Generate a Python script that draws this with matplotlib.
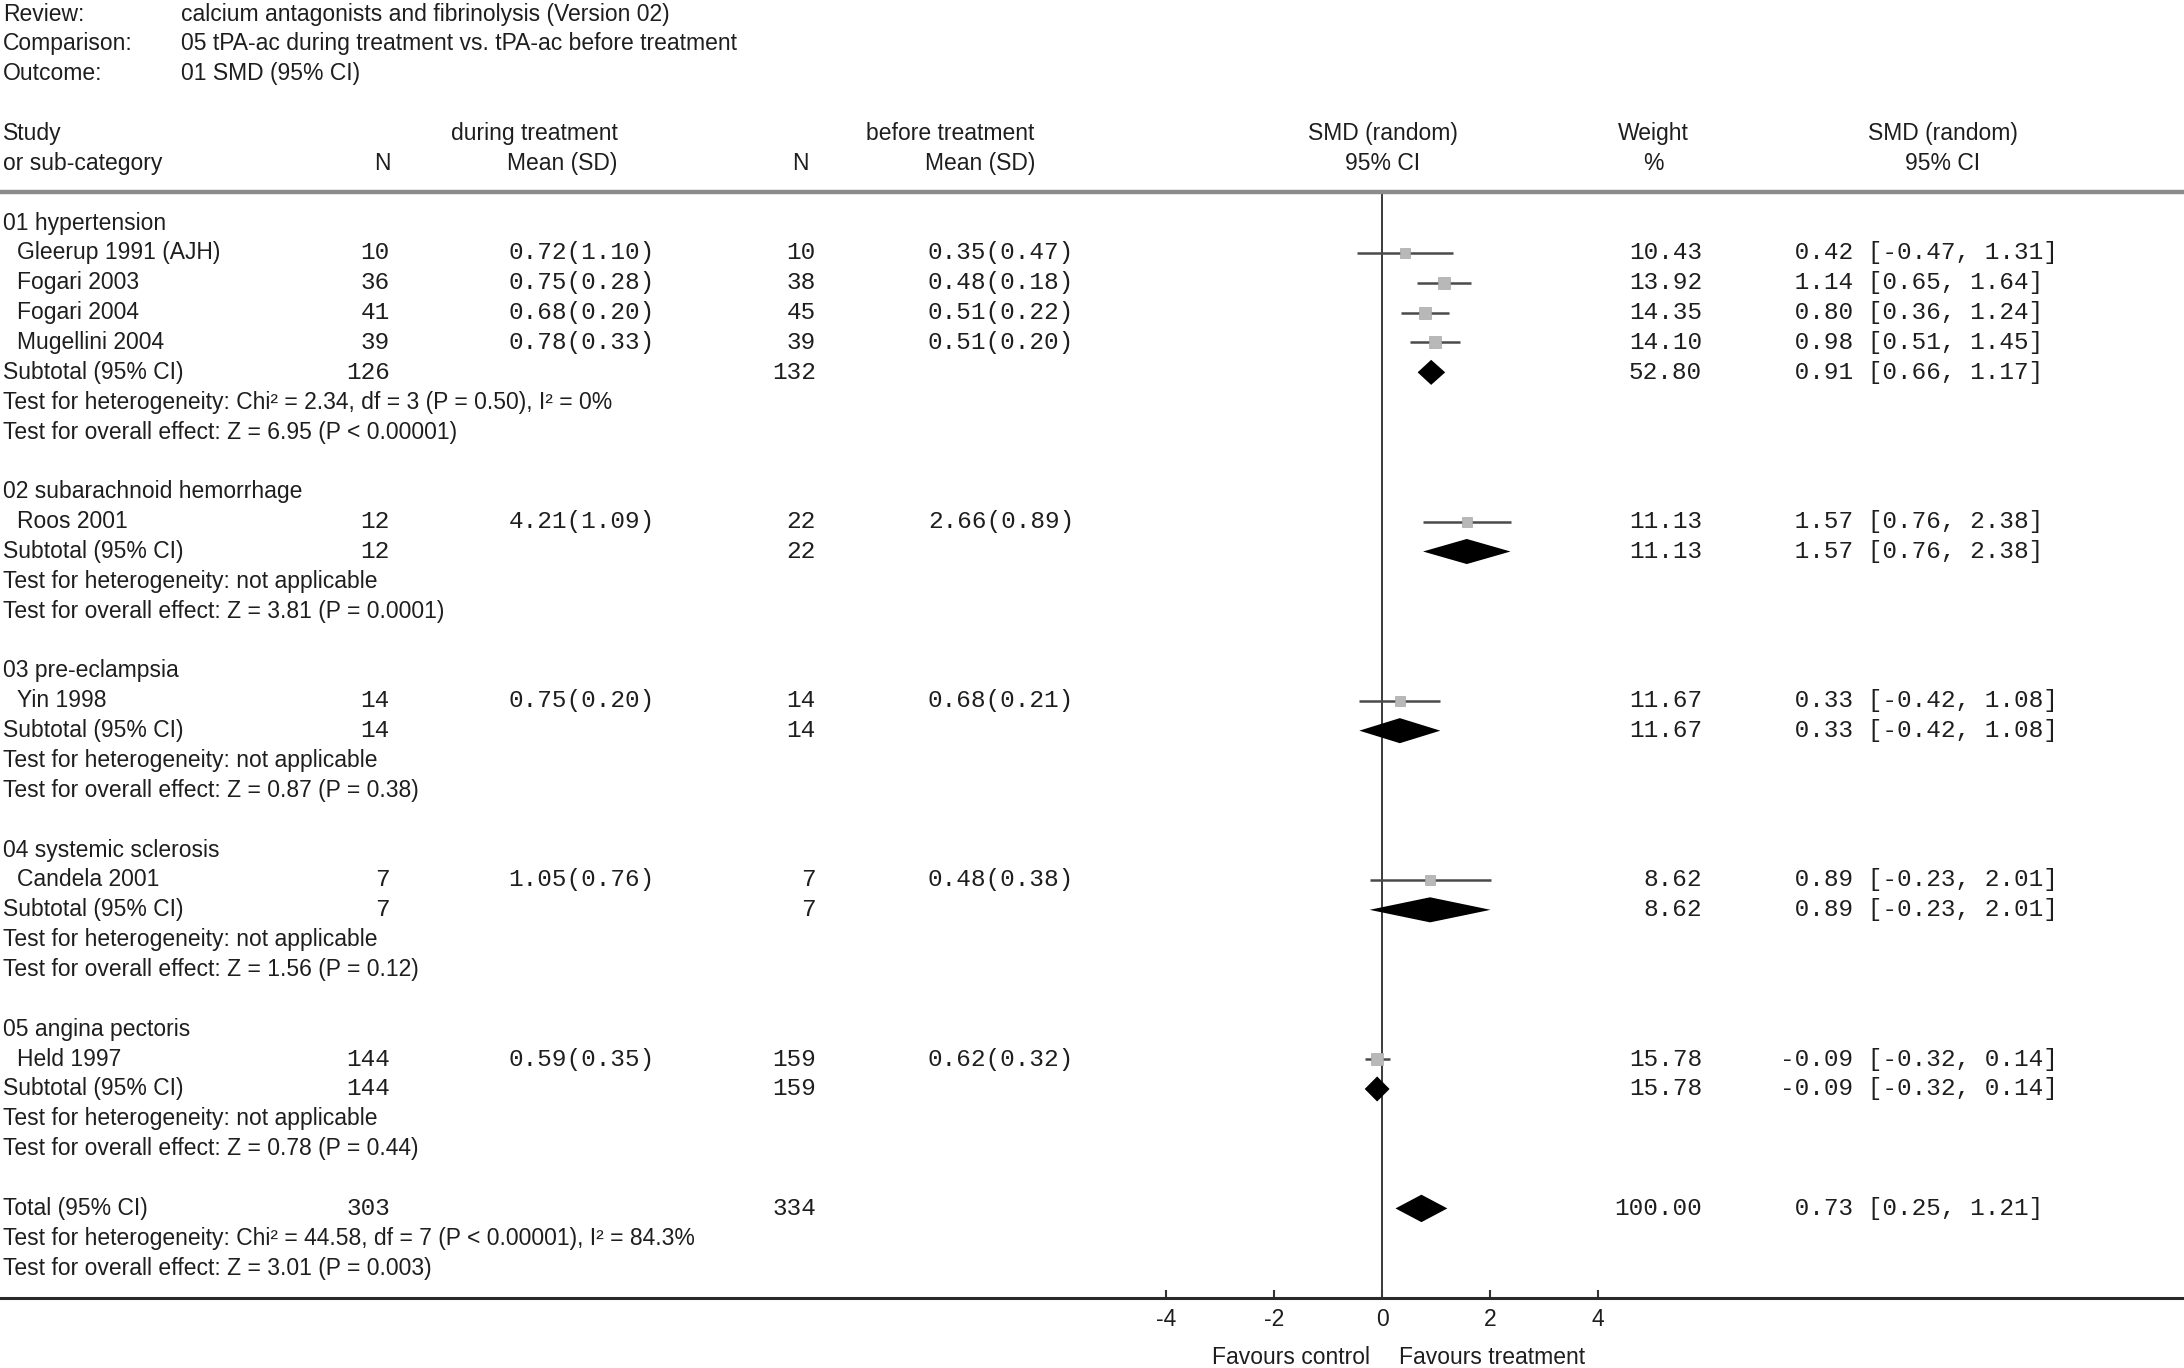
import matplotlib
matplotlib.use("Agg")
import matplotlib.pyplot as plt
import matplotlib.transforms as mtransforms
import numpy as np

plt.rcParams['axes.unicode_minus'] = False

# ---------------- data ----------------
review = "calcium antagonists and fibrinolysis (Version 02)"
comparison = "05 tPA-ac during treatment vs. tPA-ac before treatment"
outcome = "01 SMD (95% CI)"

group_names = ["01 hypertension", "02 subarachnoid hemorrhage", "03 pre-eclampsia",
               "04 systemic sclerosis", "05 angina pectoris"]

study_names = ["Gleerup 1991 (AJH)", "Fogari 2003", "Fogari 2004", "Mugellini 2004",
               "Roos 2001", "Yin 1998", "Candela 2001", "Held 1997"]
study_group = [0, 0, 0, 0, 1, 2, 3, 4]
n_during = [10, 36, 41, 39, 12, 14, 7, 144]
mean_during = [0.72, 0.75, 0.68, 0.78, 4.21, 0.75, 1.05, 0.59]
sd_during = [1.10, 0.28, 0.20, 0.33, 1.09, 0.20, 0.76, 0.35]
n_before = [10, 38, 45, 39, 22, 14, 7, 159]
mean_before = [0.35, 0.48, 0.51, 0.51, 2.66, 0.68, 0.48, 0.62]
sd_before = [0.47, 0.18, 0.22, 0.20, 0.89, 0.21, 0.38, 0.32]
weight = [10.43, 13.92, 14.35, 14.10, 11.13, 11.67, 8.62, 15.78]
smd = [0.42, 1.14, 0.80, 0.98, 1.57, 0.33, 0.89, -0.09]
ci_low = [-0.47, 0.65, 0.36, 0.51, 0.76, -0.42, -0.23, -0.32]
ci_high = [1.31, 1.64, 1.24, 1.45, 2.38, 1.08, 2.01, 0.14]

sub_n_during = [126, 12, 14, 7, 144]
sub_n_before = [132, 22, 14, 7, 159]
sub_weight = [52.80, 11.13, 11.67, 8.62, 15.78]
sub_smd = [0.91, 1.57, 0.33, 0.89, -0.09]
sub_low = [0.66, 0.76, -0.42, -0.23, -0.32]
sub_high = [1.17, 2.38, 1.08, 2.01, 0.14]
sub_het = ["Chi\u00b2 = 2.34, df = 3 (P = 0.50), I\u00b2 = 0%", "not applicable",
           "not applicable", "not applicable", "not applicable"]
sub_z = ["Z = 6.95 (P < 0.00001)", "Z = 3.81 (P = 0.0001)", "Z = 0.87 (P = 0.38)",
         "Z = 1.56 (P = 0.12)", "Z = 0.78 (P = 0.44)"]

total_n_during = 303
total_n_before = 334
total_weight = 100.00
total_smd = 0.73
total_low = 0.25
total_high = 1.21
total_het = "Chi\u00b2 = 44.58, df = 7 (P < 0.00001), I\u00b2 = 84.3%"
total_z = "Z = 3.01 (P = 0.003)"

x_ticks = [-4, -2, 0, 2, 4]

# ---------------- layout ----------------
FW, FH = 2184, 1368
fig = plt.figure(figsize=(FW / 100, FH / 100), dpi=100)
top_px, bot_px = 192, 1298
ax = fig.add_axes([0, 1 - bot_px / FH, 1, (bot_px - top_px) / FH])
zero_px, unit_px = 1382, 54.0
ax.set_xlim(-zero_px / unit_px, (FW - zero_px) / unit_px)
ax.set_ylim(36.0, -1.04)

tr = mtransforms.blended_transform_factory(ax.transAxes, ax.transData)

def fx(px):
    return px / FW

SANS = 'Liberation Sans'
MONO = 'Liberation Mono'
TC = '#1e1e1e'
FS = 16.5
MS = 17.6

def stext(x, y, s, ha='left', **kw):
    ax.text(fx(x), y, s, transform=tr, ha=ha, va='center', fontsize=FS,
            family=SANS, color=TC, **kw)

def mtext(x, y, s, ha='right'):
    ax.text(fx(x), y, s, transform=tr, ha=ha, va='center', fontsize=MS,
            family=MONO, color=TC)

# header info
stext(3, -7, "Review:")
stext(181, -7, review)
stext(3, -6, "Comparison:")
stext(181, -6, comparison)
stext(3, -5, "Outcome:")
stext(181, -5, outcome)

# column headers
stext(3, -3, "Study")
stext(3, -2, "or sub-category")
stext(534, -3, "during treatment", ha='center')
stext(382, -2, "N", ha='center')
stext(617, -2, "Mean (SD)", ha='right')
stext(950, -3, "before treatment", ha='center')
stext(800, -2, "N", ha='center')
stext(1035, -2, "Mean (SD)", ha='right')
stext(1383, -3, "SMD (random)", ha='center')
stext(1383, -2, "95% CI", ha='center')
stext(1653, -3, "Weight", ha='center')
stext(1653, -2, "%", ha='center')
stext(1943, -3, "SMD (random)", ha='center')
stext(1943, -2, "95% CI", ha='center')

X_N1, X_M1, X_N2, X_M2, X_W, X_CI = 390, 655, 816, 1074, 1702, 1780

def diamond(y, est, lo, hi, h=0.42):
    ax.fill([lo, est, hi, est], [y, y - h, y, y + h], color='black', lw=0, zorder=4)

row = 0
for g, gname in enumerate(group_names):
    stext(3, row, gname)
    row += 1
    for i in range(len(study_names)):
        if study_group[i] != g:
            continue
        stext(17, row, study_names[i])
        mtext(X_N1, row, f"{n_during[i]}")
        mtext(X_M1, row, f"{mean_during[i]:.2f}({sd_during[i]:.2f})")
        mtext(X_N2, row, f"{n_before[i]}")
        mtext(X_M2, row, f"{mean_before[i]:.2f}({sd_before[i]:.2f})")
        mtext(X_W, row, f"{weight[i]:.2f}")
        mtext(X_CI, row, f"{smd[i]:5.2f} [{ci_low[i]:.2f}, {ci_high[i]:.2f}]", ha='left')
        ax.plot([ci_low[i], ci_high[i]], [row, row], color='#4a4a4a', lw=1.8,
                solid_capstyle='butt', zorder=3)
        ax.plot([smd[i]], [row], marker='s', ms=2.3 * np.sqrt(weight[i]),
                color='#b8b8b8', mec='#a8a8a8', mew=0.5, zorder=4)
        row += 1
    stext(3, row, "Subtotal (95% CI)")
    mtext(X_N1, row, f"{sub_n_during[g]}")
    mtext(X_N2, row, f"{sub_n_before[g]}")
    mtext(X_W, row, f"{sub_weight[g]:.2f}")
    mtext(X_CI, row, f"{sub_smd[g]:5.2f} [{sub_low[g]:.2f}, {sub_high[g]:.2f}]", ha='left')
    diamond(row, sub_smd[g], sub_low[g], sub_high[g])
    row += 1
    stext(3, row, "Test for heterogeneity: " + sub_het[g])
    row += 1
    stext(3, row, "Test for overall effect: " + sub_z[g])
    row += 2

stext(3, row, "Total (95% CI)")
mtext(X_N1, row, f"{total_n_during}")
mtext(X_N2, row, f"{total_n_before}")
mtext(X_W, row, f"{total_weight:.2f}")
mtext(X_CI, row, f"{total_smd:5.2f} [{total_low:.2f}, {total_high:.2f}]", ha='left')
diamond(row, total_smd, total_low, total_high, h=0.46)
stext(3, row + 1, "Test for heterogeneity: " + total_het)
stext(3, row + 2, "Test for overall effect: " + total_z)

# zero line
ax.axvline(0, color='#3a3a3a', lw=1.4, zorder=2)

# spines / axis
for s in ['left', 'right']:
    ax.spines[s].set_visible(False)
ax.spines['top'].set_color('#8c8c8c')
ax.spines['top'].set_linewidth(3.2)
ax.spines['bottom'].set_color('#2a2a2a')
ax.spines['bottom'].set_linewidth(2.2)
ax.set_yticks([])
ax.set_xticks(x_ticks)
ax.set_xticklabels([str(t) for t in x_ticks], family=SANS, fontsize=FS, color=TC)
ax.tick_params(axis='x', direction='in', length=6, width=1.5, pad=7, colors='#333333',
               labelcolor=TC)

ax.text(-0.22, 38.0, "Favours control", ha='right', va='center', fontsize=FS,
        family=SANS, color=TC)
ax.text(0.32, 38.0, "Favours treatment", ha='left', va='center', fontsize=FS,
        family=SANS, color=TC)

fig.savefig("out.png", dpi=100, facecolor='white')
